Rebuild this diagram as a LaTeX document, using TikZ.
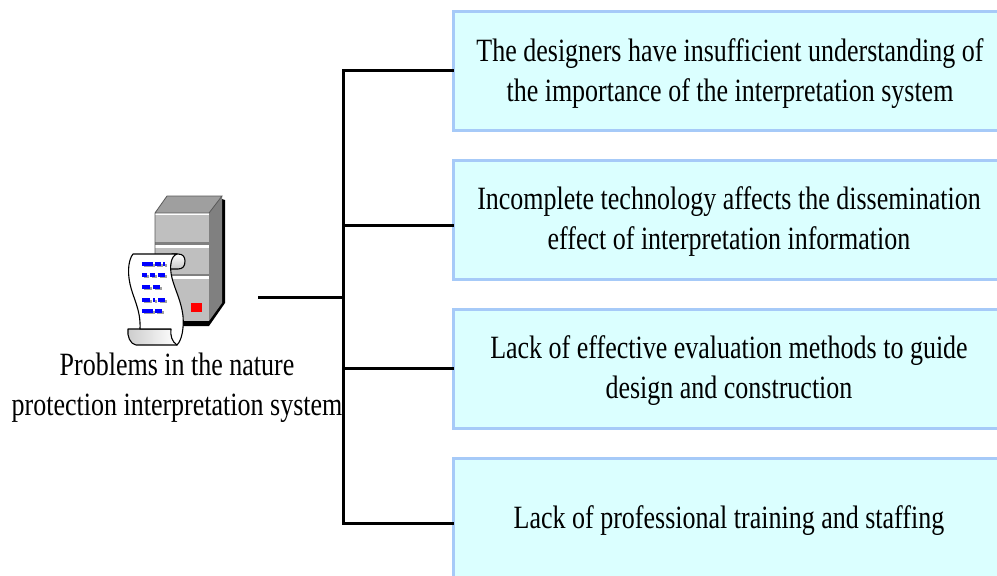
\documentclass[tikz,border=0pt]{standalone}
\usepackage{fontspec}
\setmainfont[FakeStretch=0.8]{Liberation Serif}
\definecolor{boxfill}{HTML}{DBFFFF}
\definecolor{boxline}{HTML}{A6CAF8}
\tikzset{
  x=1pt,y=-1pt,
  infobox/.style={draw=boxline,line width=3pt,fill=boxfill,anchor=north west,minimum width=560pt,inner sep=0pt},
  boxtext/.style={font=\fontsize{32.5}{40}\selectfont,align=center,anchor=center,inner sep=0pt},
  wire/.style={draw=black,line width=3pt,line cap=rect},
  scrollline/.style={draw=black,line width=1.1pt,line join=round}
}
\begin{document}
\begin{tikzpicture}
\useasboundingbox (0,0) rectangle (997,576);
\clip (0,0) rectangle (997,576);
% boxes
\node[infobox,minimum height=119pt] (b1) at (452,9.5) {};
\node[infobox,minimum height=119pt] (b2) at (452,158.5) {};
\node[infobox,minimum height=119pt] (b3) at (452,307.5) {};
\node[infobox,minimum height=125pt] (b4) at (452,456.5) {};
\node[boxtext] (t1) at (730,73.5) {The designers have insufficient understanding of\\the importance of the interpretation system};
\node[boxtext] (t2) at (729,222) {Incomplete technology affects the dissemination\\effect of interpretation information};
\node[boxtext] (t3) at (729,371) {Lack of effective evaluation methods to guide\\design and construction};
\node[boxtext] (t4) at (729,521) {Lack of professional training and staffing};
\node[boxtext] (src) at (177,388) {Problems in the nature\\protection interpretation system};
% connectors
\coordinate (stem) at (259.5,297);
\coordinate (j0) at (343,297);
\coordinate (j1) at (343,70);
\coordinate (j2) at (343,225);
\coordinate (j3) at (343,368);
\coordinate (j4) at (343,523);
\draw[wire] (stem) -- (j0);
\draw[wire] (b1.west |- j1) -- (j1) -- (j4) -- (b4.west |- j4);
\draw[wire] (j2) -- (b2.west |- j2);
\draw[wire] (j3) -- (b3.west |- j3);
% server
\fill[black] (222,199) -- (225,200) -- (225,303) -- (209,326) -- (173,326) -- (173,321) -- (209,321) -- cycle;
\fill[gray!75] (155,213) -- (167,196) -- (222,196) -- (209,213) -- cycle;
\fill[gray] (209,213) -- (222,196) -- (222,303) -- (209,321) -- cycle;
\fill[black!25] (155,213) rectangle (209,321);
\fill[gray] (155,242) rectangle (209,245);
\fill[white] (155,245) rectangle (209,247.5);
\fill[gray] (155,274) rectangle (209,276);
\fill[white] (155,276) rectangle (209,278.5);
\fill[white] (155,213) rectangle (209,215);
\draw[gray!70!black,line width=.8pt] (155,321) -- (155,213) -- (167,196) -- (222,196) -- (209,213) -- (155,213);
\fill[red] (191,303) rectangle (202,312);
% scroll
\shade[top color=white,bottom color=gray!45,scrollline] (172,254) -- (178,254) .. controls (183,254) and (185,257) .. (185,261) .. controls (185,266) and (183,269) .. (178,269) -- (170,269) -- cycle;
\shade[left color=gray!40,right color=white,scrollline] (128,329) -- (171,329) -- (177,345) -- (136,345) .. controls (130,344) and (127,336) .. (128,329) -- cycle;
\filldraw[fill=white,scrollline] (133,254) -- (177,254) .. controls (171,256) and (169,266) .. (172,278) .. controls (175,290) and (181,300) .. (183,316) .. controls (184,328) and (182,340) .. (177,345) .. controls (172,342) and (170,335) .. (171,329) -- (140,329) .. controls (141,310) and (133,298) .. (130,284) .. controls (127,270) and (129,259) .. (133,254) -- cycle;
\foreach \xa/\xb/\yy in {142/153/264,155/161/264,162.5/165/264,142/147/275,150/155/275,158/165/275,142/150/287,153/160/287,142/150/300,153/155/300,158/165/300,142/153/311,155/162/311}{
  \fill[gray!75] (\xa+2,\yy) rectangle (\xb+2,\yy+3.2);
  \fill[blue] (\xa,\yy-2.5) rectangle (\xb,\yy+2);
}
\end{tikzpicture}
\end{document}
